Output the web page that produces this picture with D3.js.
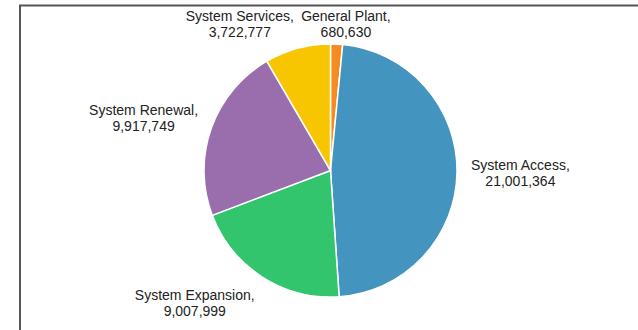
<!DOCTYPE html>
<html>
<head>
<meta charset="utf-8">
<script src="https://cdn.jsdelivr.net/npm/d3@7"></script>
<style>
  html, body { margin: 0; padding: 0; background: #fff; }
  svg { display: block; }
  text { font-family: "Liberation Sans", Arial, sans-serif; font-size: 14px; fill: #222; }
</style>
</head>
<body>
<svg id="chart" width="638" height="330"></svg>
<script>
// Capital spending by category (dollars)
const categories = ["General Plant", "System Access", "System Expansion", "System Renewal", "System Services"];
const values = [680630, 21001364, 9007999, 9917749, 3722777];
const colors = ["#f68b1f", "#4394be", "#33c46e", "#9a6dac", "#f7c600"];

const width = 638, height = 330;
const cx = 330.5, cy = 170.5, radius = 126.5;
const labelRadius = 140.5;
const frameLeft = 20, frameTop = 5.5;

const svg = d3.select("#chart");

// Frame around the plot area
svg.append("path")
  .attr("d", `M${frameLeft},${height + 2}V${frameTop}H${width + 2}`)
  .attr("fill", "none")
  .attr("stroke", "#555")
  .attr("stroke-width", 2);

const data = categories.map((c, i) => ({ category: c, value: values[i], color: colors[i] }));

const pie = d3.pie().sort(null).value(d => d.value);
const arcs = pie(data);
const arc = d3.arc().innerRadius(0).outerRadius(radius);

const g = svg.append("g").attr("transform", `translate(${cx},${cy})`);

g.selectAll("path.slice")
  .data(arcs)
  .join("path")
  .attr("class", "slice")
  .attr("d", arc)
  .attr("fill", d => d.data.color)
  .attr("stroke", "#fff")
  .attr("stroke-width", 1.5);

// Outside labels: "Category," on the first line, formatted value below
const fmt = d3.format(",");
const lineGap = 16.3;
const labels = svg.append("g");

arcs.forEach(d => {
  const mid = (d.startAngle + d.endAngle) / 2;
  const s = Math.sin(mid), c = -Math.cos(mid);
  const px = cx + labelRadius * s;
  const py = cy + labelRadius * c;

  const t = labels.append("text").attr("text-anchor", "middle");
  const l1 = t.append("tspan").text(d.data.category + ",");
  const l2 = t.append("tspan").text(fmt(d.data.value));
  const w = Math.max(l1.node().getComputedTextLength(), l2.node().getComputedTextLength());
  const halfH = 17;

  // push the block outward from the pie, clamp inside the frame
  const f = Math.max(-1, Math.min(1, s / 0.25));
  const x = px + f * w / 2;
  let y = py + c * halfH;
  y = Math.max(y, frameTop + 18.5);

  l1.attr("x", x).attr("y", y - 3);
  l2.attr("x", x).attr("y", y - 3 + lineGap);
});
</script>
</body>
</html>
